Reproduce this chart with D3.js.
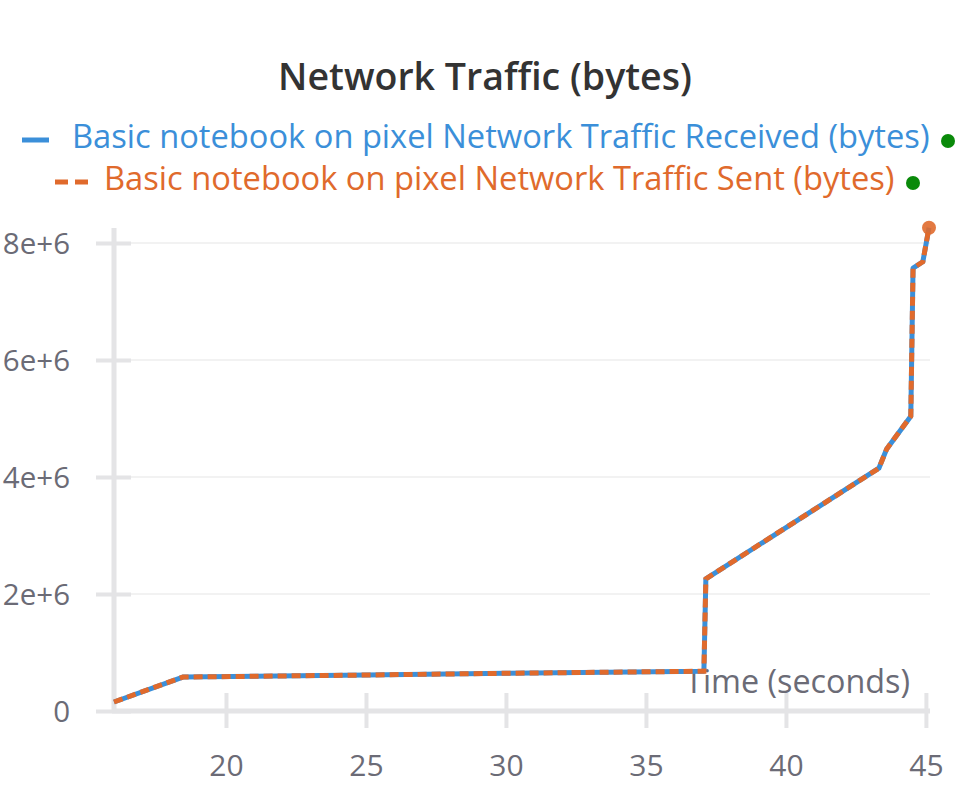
<!DOCTYPE html>
<html><head><meta charset="utf-8">
<script src="https://cdn.jsdelivr.net/npm/d3@7"></script>
<style>body{margin:0;background:#fff;}svg{display:block;font-family:"Open Sans","Noto Sans",sans-serif;}</style>
</head><body>
<svg id="c" width="971" height="785"></svg>
<script>
const timeSec = [16.0, 18.46, 25.0, 30.0, 37.07, 37.14, 43.32, 43.6, 44.46, 44.54, 44.89, 45.11];
const received = [0.154e6, 0.58e6, 0.615e6, 0.645e6, 0.68e6, 2.26e6, 4.15e6, 4.48e6, 5.04e6, 7.57e6, 7.68e6, 8.26e6];
const sent = [0.154e6, 0.58e6, 0.615e6, 0.645e6, 0.68e6, 2.26e6, 4.15e6, 4.48e6, 5.04e6, 7.57e6, 7.68e6, 8.26e6];
const xTicks = [20, 25, 30, 35, 40, 45];
const yTicks = [0, 2e6, 4e6, 6e6, 8e6];
const yTickLabels = ["0", "2e+6", "4e+6", "6e+6", "8e+6"];
const seriesNames = ["Basic notebook on pixel Network Traffic Received (bytes)", "Basic notebook on pixel Network Traffic Sent (bytes)"];

const svg = d3.select("#c");
const x = d3.scaleLinear().domain([16.0, 45.11]).range([114, 929]);
const y = d3.scaleLinear().domain([0, 8e6]).range([711, 243]);
const grey = "#6b6b76", axisC = "#e4e4e6";
const blue = "#3b8fd9", orange = "#e06a2c";

function fit(sel, w) {
  const fs = parseFloat(sel.style("font-size"));
  const cur = sel.node().getComputedTextLength();
  sel.style("font-size", (fs * w / cur).toFixed(2) + "px");
}

// gridlines
svg.append("g").selectAll("line").data(yTicks.slice(1)).join("line")
  .attr("x1", 114).attr("x2", 930).attr("y1", d => y(d)).attr("y2", d => y(d))
  .attr("stroke", "#e6e6e6").attr("stroke-width", 1.2);

// axes
const yAxis = d3.axisLeft(y).tickValues(yTicks).tickFormat((d, i) => yTickLabels[i]).tickSize(0).tickPadding(0);
const gy = svg.append("g").attr("transform", "translate(114,0)").call(yAxis);
gy.select(".domain").remove();
gy.selectAll(".tick text").attr("x", -44).attr("dy", "0.36em").attr("fill", grey).style("font-size", "29.5px");
gy.selectAll(".tick").append("line").attr("x1", -18).attr("x2", 17).attr("stroke", axisC).attr("stroke-width", 4);
svg.append("line").attr("x1", 114).attr("x2", 114).attr("y1", 228).attr("y2", 712).attr("stroke", axisC).attr("stroke-width", 5);

const xAxis = d3.axisBottom(x).tickValues(xTicks).tickSize(0).tickFormat(d3.format("d"));
const gx = svg.append("g").attr("transform", "translate(0,711)").call(xAxis);
gx.select(".domain").remove();
gx.selectAll(".tick text").attr("y", 65).attr("dy", null).attr("fill", grey).style("font-size", "30px");
gx.selectAll(".tick").append("line").attr("y1", -18).attr("y2", 17).attr("stroke", axisC).attr("stroke-width", 4);
svg.append("line").attr("x1", 112).attr("x2", 930).attr("y1", 711).attr("y2", 711).attr("stroke", axisC).attr("stroke-width", 5);
svg.selectAll("g[font-family]").attr("font-family", null).attr("font-size", null);

const xl = svg.append("text").attr("x", 910).attr("y", 693).attr("text-anchor", "end").attr("fill", grey)
  .style("font-size", "28px").text("Time (seconds)");
fit(xl, 225);

// lines
const lineR = d3.line().x((d, i) => x(timeSec[i])).y(d => y(d));
svg.append("path").attr("d", lineR(received)).attr("fill", "none").attr("stroke", blue).attr("stroke-width", 5).attr("stroke-linejoin", "round");
svg.append("path").attr("d", lineR(sent)).attr("fill", "none").attr("stroke", orange).attr("stroke-width", 5).attr("stroke-dasharray", "9,5");
svg.append("circle").attr("cx", x(timeSec[timeSec.length - 1])).attr("cy", y(sent[sent.length - 1])).attr("r", 7).attr("fill", orange).attr("opacity", 0.9);

// title
const tt = svg.append("text").attr("x", 485).attr("y", 90).attr("text-anchor", "middle").attr("fill", "#333")
  .style("font-size", "34px").style("font-weight", "600").text("Network Traffic (bytes)");
fit(tt, 414);

// legend
const leg = [
  {name: seriesNames[0], color: blue, dash: null, mx: 22, mw: 27, tx: 72, y: 140, w: 858, dotx: 948},
  {name: seriesNames[1], color: orange, dash: "13,7", mx: 55, mw: 33, tx: 104, y: 182, w: 791, dotx: 913}
];
leg.forEach(l => {
  svg.append("line").attr("x1", l.mx).attr("x2", l.mx + l.mw).attr("y1", l.y).attr("y2", l.y)
    .attr("stroke", l.color).attr("stroke-width", 5).attr("stroke-dasharray", l.dash);
  const t = svg.append("text").attr("x", l.tx).attr("y", l.y + 8).attr("fill", l.color).style("font-size", "28px").text(l.name);
  fit(t, l.w);
  svg.append("circle").attr("cx", l.dotx).attr("cy", l.y + 1).attr("r", 7).attr("fill", "#0a8a0a");
});
</script>
</body></html>
